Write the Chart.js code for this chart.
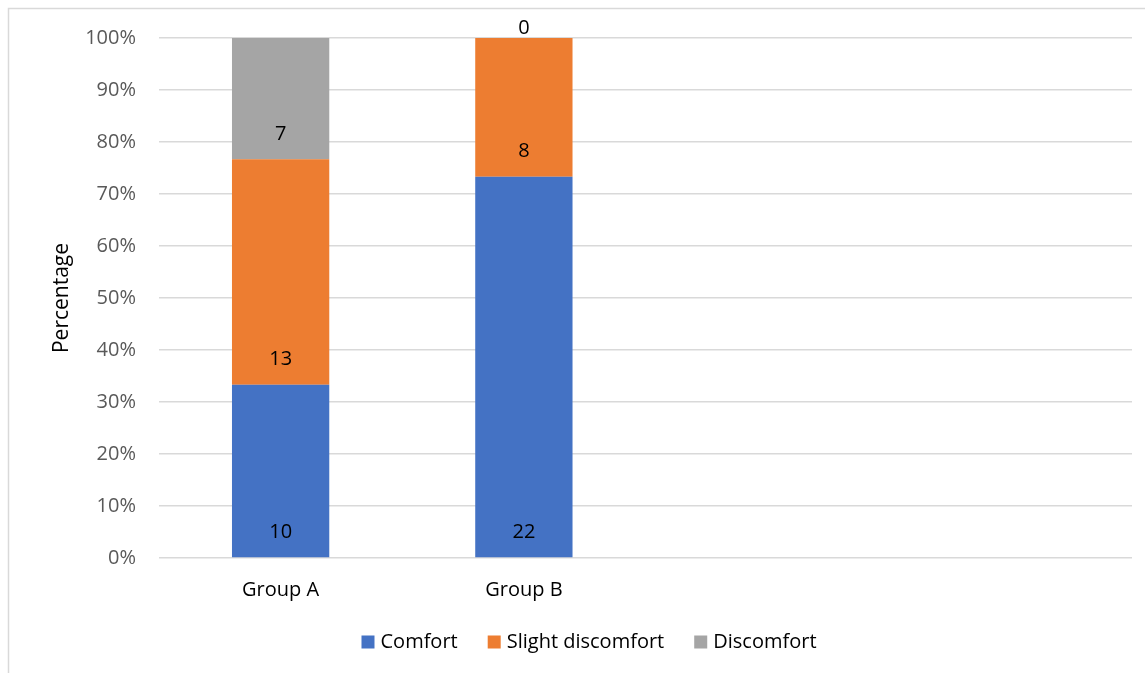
<!DOCTYPE html>
<html>
<head>
<meta charset="utf-8">
<script src="https://cdn.jsdelivr.net/npm/chart.js@4.4.1/dist/chart.umd.min.js"></script>
<style>
  html, body { margin: 0; padding: 0; background: #ffffff; }
  #wrap { position: relative; width: 1145px; height: 673px; }
</style>
</head>
<body>
<div id="wrap"><canvas id="chart" width="1145" height="673"></canvas></div>
<script>
// Categories (two empty slots keep the bars in the left half of the plot)
const categories = ['Group A', 'Group B', '', ''];

// Participant counts per comfort level
const comfort = [10, 22, null, null];
const slightDiscomfort = [13, 8, null, null];
const discomfort = [7, 0, null, null];

const seriesNames = ['Comfort', 'Slight discomfort', 'Discomfort'];
const seriesColors = ['#4472C4', '#ED7D31', '#A5A5A5'];

const yTicks = [0, 10, 20, 30, 40, 50, 60, 70, 80, 90, 100];

const FONT = '"Open Sans", "Liberation Sans", sans-serif';

// Share of each group (in %) for the 100% stacked bars
const counts = [comfort, slightDiscomfort, discomfort];
const totals = categories.map((_, i) => counts.reduce((s, arr) => s + (arr[i] || 0), 0));
const toPct = arr => arr.map((v, i) => (v === null || !totals[i]) ? null : v / totals[i] * 100);

const datasets = counts.map((arr, k) => ({
  label: seriesNames[k],
  data: toPct(arr),
  counts: arr,
  backgroundColor: seriesColors[k],
  borderWidth: 0,
  barPercentage: 0.4,
  categoryPercentage: 1.0
}));

// Light frame around the chart object
const framePlugin = {
  id: 'frame',
  beforeDraw(chart) {
    const ctx = chart.ctx;
    ctx.save();
    ctx.strokeStyle = '#d9d9d9';
    ctx.lineWidth = 1.5;
    ctx.beginPath();
    ctx.moveTo(8.5, chart.height);
    ctx.lineTo(8.5, 8.5);
    ctx.lineTo(chart.width, 8.5);
    ctx.stroke();
    ctx.restore();
  }
};

// Count labels placed just inside the base of each segment
const countLabels = {
  id: 'countLabels',
  afterDatasetsDraw(chart) {
    const ctx = chart.ctx;
    ctx.save();
    ctx.font = '20px ' + FONT;
    ctx.fillStyle = '#000000';
    ctx.textAlign = 'center';
    ctx.textBaseline = 'middle';
    chart.data.datasets.forEach((ds, di) => {
      const meta = chart.getDatasetMeta(di);
      meta.data.forEach((bar, i) => {
        const c = ds.counts[i];
        if (c === null || c === undefined) return;
        const y = c > 0 ? bar.base - 25 : bar.base - 10;
        ctx.fillText(String(c), bar.x, y);
      });
    });
    ctx.restore();
  }
};

// Legend row under the axis
const legendRow = {
  id: 'legendRow',
  afterDraw(chart) {
    const ctx = chart.ctx;
    ctx.save();
    ctx.font = '20px ' + FONT;
    ctx.textBaseline = 'middle';
    const box = 13, gap = 6, itemGap = 30;
    const widths = seriesNames.map(n => box + gap + ctx.measureText(n).width);
    const total = widths.reduce((a, b) => a + b, 0) + itemGap * (widths.length - 1);
    let x = 589 - total / 2;
    const cy = 642;
    seriesNames.forEach((n, k) => {
      ctx.fillStyle = seriesColors[k];
      ctx.fillRect(x, cy - box / 2, box, box);
      ctx.fillStyle = '#000000';
      ctx.fillText(n, x + box + gap, cy);
      x += widths[k] + itemGap;
    });
    ctx.restore();
  }
};

new Chart(document.getElementById('chart'), {
  type: 'bar',
  data: { labels: categories, datasets },
  options: {
    responsive: false,
    animation: false,
    layout: { padding: { left: 0, top: 38, right: 13, bottom: 55 } },
    plugins: {
      legend: { display: false },
      tooltip: {
        callbacks: {
          label: c => c.dataset.label + ': ' + c.dataset.counts[c.dataIndex] +
            ' (' + c.parsed.y.toFixed(1) + '%)'
        }
      }
    },
    scales: {
      x: {
        stacked: true,
        grid: { display: false },
        border: { display: false },
        ticks: { color: '#000000', font: { family: FONT, size: 20 }, padding: 12 },
        afterFit: s => { s.height = 60; }
      },
      y: {
        stacked: true,
        min: 0,
        max: 100,
        afterBuildTicks: s => { s.ticks = yTicks.map(v => ({ value: v })); },
        grid: { color: '#d9d9d9', lineWidth: 1.5, drawTicks: false },
        border: { display: false },
        ticks: {
          color: '#595959',
          font: { family: FONT, size: 20 },
          padding: 23,
          callback: v => v + '%'
        },
        title: {
          display: true,
          text: 'Percentage',
          color: '#000000',
          font: { family: FONT, size: 21 },
          padding: { top: 49, bottom: 0 }
        },
        afterFit: s => { s.width = 159; }
      }
    }
  },
  plugins: [framePlugin, countLabels, legendRow]
});
</script>
</body>
</html>
